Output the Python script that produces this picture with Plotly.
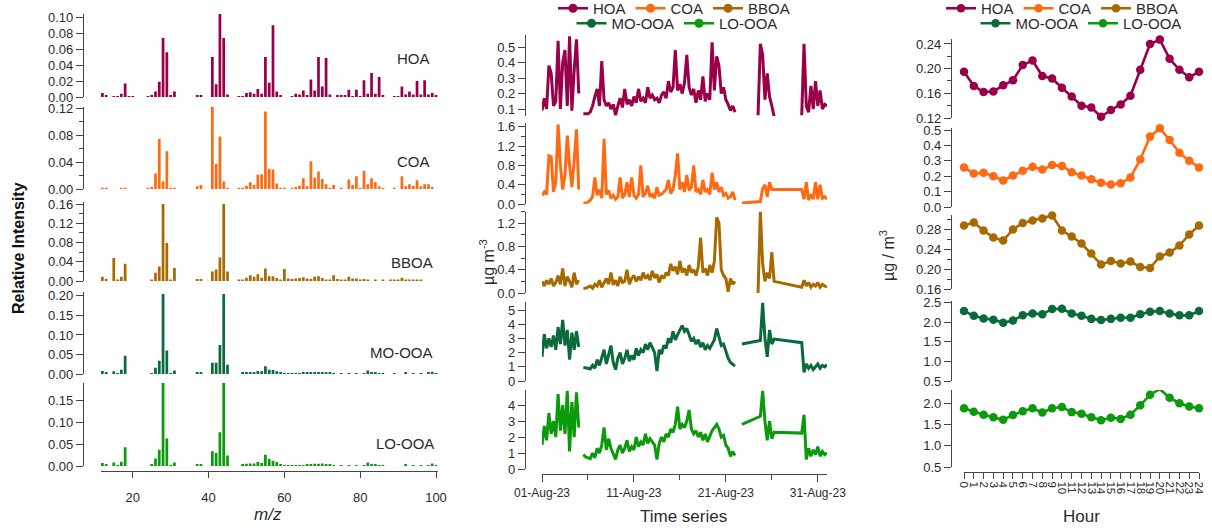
import pandas as pd
import plotly.graph_objects as go

# ---------------- data ----------------
SPECIES = ["HOA", "COA", "BBOA", "MO-OOA", "LO-OOA"]
COLORS = ["#990049", "#FF6A13", "#A86A00", "#0B6A3A", "#0B9A0B"]

MZ = list(range(12, 101))
MS_HOA = [0.005, 0.002, 0, 0.001, 0.001, 0.004, 0.017, 0.001, 0.001, 0,
          0, 0, 0.001, 0.002, 0.007, 0.019, 0.074, 0.056, 0.002, 0.007,
          0, 0, 0, 0, 0, 0.002, 0.002, 0, 0, 0.050,
          0.016, 0.104, 0.074, 0.003, 0, 0, 0.001, 0.001, 0.005, 0.006,
          0.004, 0.010, 0.004, 0.050, 0.018, 0.090, 0.007, 0.002, 0, 0,
          0.001, 0.004, 0.003, 0.008, 0.002, 0.022, 0.008, 0.050, 0.013, 0.049,
          0.003, 0, 0.002, 0.002, 0.002, 0.009, 0.001, 0.009, 0.001, 0.021,
          0.004, 0.030, 0.004, 0.025, 0.002, 0, 0, 0.001, 0.001, 0.013,
          0.003, 0.007, 0.003, 0.020, 0.003, 0.021, 0.003, 0.005, 0.002]
MS_COA = [0.001, 0.001, 0, 0, 0, 0.001, 0.002, 0, 0, 0,
          0, 0, 0.001, 0.003, 0.023, 0.074, 0.011, 0.056, 0.002, 0.002,
          0, 0, 0, 0, 0, 0.004, 0.006, 0, 0, 0.123,
          0.037, 0.078, 0.011, 0.002, 0, 0, 0.001, 0.001, 0.005, 0.010,
          0.006, 0.021, 0.022, 0.115, 0.030, 0.029, 0.008, 0.002, 0.002, 0,
          0.001, 0.003, 0.005, 0.016, 0.004, 0.041, 0.017, 0.026, 0.015, 0.007,
          0.002, 0.006, 0, 0.001, 0, 0.014, 0.006, 0.019, 0.002, 0.027,
          0.007, 0.016, 0.010, 0.004, 0.002, 0, 0, 0.001, 0, 0.019,
          0.004, 0.007, 0.005, 0.013, 0.004, 0.007, 0.007, 0.003, 0]
MS_BBOA = [0.009, 0.004, 0, 0.048, 0.001, 0.009, 0.036, 0, 0, 0,
           0, 0, 0, 0.002, 0.017, 0.030, 0.160, 0.079, 0.002, 0.027,
           0, 0, 0, 0, 0, 0.004, 0.004, 0, 0, 0.020,
           0.024, 0.049, 0.160, 0.020, 0, 0, 0.001, 0.002, 0.007, 0.012,
           0.009, 0.014, 0.007, 0.026, 0.010, 0.010, 0.006, 0.003, 0.025, 0.005,
           0.004, 0.005, 0.006, 0.008, 0.005, 0.004, 0.009, 0.010, 0.006, 0.002,
           0.001, 0.012, 0.004, 0.003, 0.003, 0.009, 0.005, 0.005, 0.003, 0.004,
           0.002, 0, 0.001, 0, 0.001, 0, 0.002, 0.003, 0.002, 0.007,
           0.003, 0.003, 0.003, 0.002, 0.001, 0, 0, 0, 0]
MS_MOOOA = [0.008, 0.003, 0, 0.007, 0.002, 0.011, 0.047, 0, 0, 0,
            0, 0, 0, 0.002, 0.016, 0.034, 0.205, 0.060, 0.002, 0.009,
            0, 0, 0, 0, 0, 0.003, 0.003, 0, 0, 0.029,
            0.029, 0.074, 0.205, 0.024, 0, 0, 0, 0.003, 0.004, 0.005,
            0.005, 0.008, 0.007, 0.020, 0.011, 0.010, 0.007, 0.003, 0.002, 0.001,
            0.001, 0.002, 0.002, 0.003, 0.003, 0.004, 0.005, 0.005, 0.005, 0.004,
            0.003, 0.001, 0, 0.001, 0, 0.002, 0, 0.002, 0, 0.002,
            0.009, 0.003, 0.003, 0.002, 0.002, 0, 0, 0.001, 0, 0,
            0.004, 0, 0.001, 0, 0.002, 0, 0.003, 0.006, 0.002]
MS_LOOOA = [0.007, 0.003, 0, 0.008, 0.002, 0.010, 0.043, 0, 0, 0,
            0, 0, 0, 0.003, 0.017, 0.037, 0.190, 0.063, 0.002, 0.008,
            0, 0, 0, 0, 0, 0.003, 0.003, 0, 0, 0.034,
            0.030, 0.077, 0.190, 0.024, 0, 0, 0, 0.003, 0.005, 0.006,
            0.006, 0.009, 0.007, 0.026, 0.016, 0.012, 0.009, 0.003, 0.002, 0.001,
            0.001, 0.002, 0.002, 0.002, 0.003, 0.004, 0.005, 0.005, 0.006, 0.004,
            0.003, 0.001, 0, 0.001, 0, 0.001, 0, 0.002, 0, 0.002,
            0.008, 0.003, 0.003, 0.002, 0.002, 0, 0, 0, 0, 0,
            0.004, 0, 0.001, 0, 0.002, 0, 0.002, 0.006, 0.002]

HOURS = list(range(25))
DIURNAL_HOA = [0.195, 0.172, 0.162, 0.163, 0.173, 0.181, 0.206, 0.213, 0.188, 0.184,
               0.169, 0.155, 0.140, 0.137, 0.122, 0.133, 0.142, 0.156, 0.198, 0.240,
               0.247, 0.216, 0.198, 0.186, 0.195]
DIURNAL_COA = [0.257, 0.217, 0.222, 0.200, 0.172, 0.204, 0.235, 0.261, 0.243, 0.272,
               0.267, 0.226, 0.204, 0.180, 0.157, 0.146, 0.154, 0.191, 0.309, 0.457,
               0.511, 0.435, 0.352, 0.300, 0.257]
DIURNAL_BBOA = [0.287, 0.293, 0.277, 0.263, 0.257, 0.279, 0.292, 0.297, 0.301, 0.307,
                0.277, 0.265, 0.251, 0.231, 0.209, 0.216, 0.211, 0.215, 0.204, 0.202,
                0.225, 0.233, 0.247, 0.269, 0.287]
DIURNAL_MOOOA = [2.29, 2.17, 2.10, 2.07, 1.99, 2.05, 2.18, 2.23, 2.21, 2.34,
                 2.35, 2.23, 2.17, 2.09, 2.06, 2.09, 2.12, 2.12, 2.21, 2.27,
                 2.29, 2.23, 2.18, 2.18, 2.29]
DIURNAL_LOOOA = [1.88, 1.80, 1.73, 1.67, 1.61, 1.72, 1.81, 1.88, 1.78, 1.88,
                 1.91, 1.79, 1.75, 1.67, 1.60, 1.66, 1.63, 1.73, 1.95, 2.20,
                 2.33, 2.13, 2.00, 1.92, 1.88]

# time series: 6-hourly samples from TS_START; each entry = (first sample index, values)
# None inside a run = missing sample (line drawn across); separate runs = broken line
TS_START = "2023-08-01 00:00"
TS_STEP_HOURS = 6
TS_HOA = [
    (0, [0.09, 0.17, 0.10, 0.38, 0.33, 0.12, 0.15, 0.54, 0.10, 0.40, 0.48, 0.12, 0.57, 0.09, 0.35, 0.55, 0.20]),
    (18, [0.07, 0.07, 0.07, 0.08, 0.12, 0.18, 0.23, 0.12, 0.41, 0.16,
          0.12, 0.14, 0.10, 0.13, 0.06, 0.12, 0.17, 0.11, 0.23, 0.13,
          0.16, 0.12, 0.18, 0.14, 0.23, 0.15, 0.17, 0.14, 0.24, 0.17,
          0.19, 0.16, 0.17, 0.14, 0.19, 0.21, 0.17, 0.28, 0.21, 0.24,
          0.48, 0.22, 0.26, 0.20, 0.27, 0.45, 0.24, 0.19, 0.23, 0.14,
          0.22, 0.16, 0.31, 0.15, 0.20, 0.16, 0.53, 0.22, 0.44, 0.38,
          0.20, 0.24, 0.16, 0.13, 0.09, 0.12, 0.08]),
    (94, [0.06, 0.52, 0.45, 0.16, 0.33, 0.18, 0.12, 0.05]),
    (113, [0.06, 0.52, 0.12, 0.08, 0.25, 0.10, 0.28, 0.12, 0.22, 0.10, 0.13, 0.12]),
]
TS_COA = [
    (0, [0.18, 0.25, 0.20, 1.00, 0.98, 0.25, 0.45, 1.65, 0.80, 0.30, 0.60, 1.42, 0.80, 0.35, 0.90, 1.55, 0.30]),
    (18, [0.02, 0.02, 0.04, 0.08, 0.15, 0.55, 0.18, 0.30, 0.12, 1.35,
          0.20, 0.28, 0.12, 0.18, 0.10, 0.15, 0.55, 0.12, 0.20, 0.45,
          0.15, 0.55, 0.18, 0.12, 0.20, 0.80, 0.15, 0.22, 0.38, 0.15,
          0.20, 0.12, 0.35, 0.18, 0.20, 0.25, 0.30, 0.50, 0.22, 0.30,
          0.60, 1.05, 0.30, 0.45, 0.25, 0.60, 0.28, 0.35, 0.80, 0.25,
          0.30, 0.20, 0.50, 0.25, 0.30, 0.20, 0.65, 0.30, 0.45, 0.25,
          0.35, 0.18, 0.22, 0.12, 0.15, 0.25, 0.08]),
    (87, [0.02, None, None, None, None, None, None, None, 0.05, 0.32,
          0.40, 0.15, 0.45, 0.30, 0.30, None, None, None, None, None,
          None, None, None, None, None, None, 0.30, 0.10, 0.45, 0.08,
          0.20, 0.10, 0.45, 0.10, 0.40, 0.12, 0.15, 0.10]),
]
TS_BBOA = [
    (0, [0.20, 0.12, 0.22, 0.15, 0.25, 0.12, 0.18, 0.30, 0.15, 0.42, 0.12, 0.28, 0.20, 0.10, 0.35, 0.15, 0.22]),
    (18, [0.08, 0.08, 0.10, 0.12, 0.08, 0.15, 0.12, 0.22, 0.10, 0.18,
          0.25, 0.15, 0.35, 0.14, 0.22, 0.12, 0.28, 0.18, 0.20, 0.40,
          0.15, 0.25, 0.30, 0.20, 0.28, 0.22, 0.35, 0.25, 0.30, 0.22,
          0.38, 0.26, 0.32, 0.18, 0.30, 0.25, 0.35, 0.30, 0.50, 0.38,
          0.45, 0.32, 0.55, 0.35, 0.42, 0.30, 0.48, 0.35, 0.40, 0.30,
          0.45, 0.95, 0.35, 0.42, 0.30, 0.48, 0.35, 0.55, 1.30, 1.20,
          0.40, 0.30, 0.25, 0.02, 0.25, 0.15, 0.20]),
    (94, [0.00, 1.40, 0.50, 0.20, 0.35, 0.25, 0.70, 0.20, None, None,
          None, None, None, None, None, None, None, None, None, 0.10,
          0.22, 0.12, 0.18, 0.10, 0.15, 0.12, 0.18, 0.10, 0.15, 0.12,
          0.10]),
]
TS_MOOOA = [
    (0, [1.7, 3.3, 2.3, 3.0, 2.4, 3.2, 2.2, 3.8, 2.6, 4.3, 2.5, 3.6, 1.5, 3.4, 2.2, 3.5, 2.4]),
    (18, [0.95, 0.95, 0.90, 0.85, 1.10, 0.90, 1.50, 1.10, 1.60, 2.20,
          1.20, 1.80, 2.50, 1.30, 0.80, 1.60, 2.00, 1.20, 1.60, 2.20,
          1.40, 1.80, 1.50, 2.30, 1.80, 2.20, 2.00, 2.60, 2.20, 2.70,
          2.40, 2.00, 0.70, 2.20, 1.90, 2.50, 2.30, 3.00, 2.70, 3.50,
          2.90, 3.30, 3.60, 3.90, 3.50, 3.70, 3.20, 2.80, 3.00, 2.60,
          2.90, 2.40, 2.70, 2.20, 2.50, 2.30, 2.60, 2.90, 3.70, 3.10,
          2.50, 2.60, 2.00, 1.60, 1.30, 1.20, 1.05]),
    (87, [2.60, None, None, None, None, None, None, None, 2.85, 5.50,
          3.00, 1.70, 3.60, 2.60, 2.95, None, None, None, None, None,
          None, None, None, None, None, None, 2.70, 0.60, 1.20, 0.90,
          1.10, 0.80, 1.00, 1.20, 0.90, 1.10, 1.00, 1.15]),
]
TS_LOOOA = [
    (0, [1.5, 2.7, 1.8, 3.5, 2.2, 3.0, 2.0, 4.7, 2.4, 4.0, 2.2, 4.9, 1.1, 4.2, 2.0, 4.8, 2.6]),
    (18, [0.90, 0.75, 0.70, 0.65, 1.00, 0.70, 1.30, 1.00, 1.50, 2.60,
          1.20, 1.90, 1.30, 1.00, 0.60, 1.20, 1.50, 1.00, 1.30, 1.80,
          1.10, 1.40, 1.20, 2.00, 1.40, 1.70, 1.50, 2.20, 1.60, 1.90,
          1.70, 1.50, 0.60, 1.60, 2.00, 1.70, 2.20, 2.00, 2.50, 2.30,
          2.80, 3.90, 2.50, 2.80, 2.60, 3.00, 3.70, 2.50, 2.20, 2.40,
          2.00, 2.30, 1.80, 2.20, 1.70, 2.10, 2.40, 2.60, 2.80, 2.50,
          2.00, 2.10, 1.50, 1.30, 0.80, 1.10, 0.85]),
    (87, [2.80, None, None, None, None, None, None, None, 3.30, 4.90,
          3.00, 1.80, 3.00, 1.90, 2.30, None, None, None, None, None,
          None, None, None, None, None, None, 2.25, 3.40, 0.60, 1.30,
          0.80, 1.20, 0.90, 1.40, 0.80, 1.10, 0.90, 1.00]),
]

MS = [MS_HOA, MS_COA, MS_BBOA, MS_MOOOA, MS_LOOOA]
TS = [TS_HOA, TS_COA, TS_BBOA, TS_MOOOA, TS_LOOOA]
DIURNAL = [DIURNAL_HOA, DIURNAL_COA, DIURNAL_BBOA, DIURNAL_MOOOA, DIURNAL_LOOOA]

# ---------------- layout geometry (pixels) ----------------
W, H = 1212, 531
FONT = "Arial, Liberation Sans, sans-serif"
TXT = "#2b2b2b"
AXC = "#454545"


def fx(px):
    return px / W


def fy(py):
    return (H - py) / H


COL_X = [(100.5, 437.9), (542, 827), (964, 1199)]
YAXIS_X = [83, 525, 951]
XAXIS_Y = [471, 474, 472]
PANEL_Y = [
    [(14, 97), (106.7, 189), (201.6, 281), (292, 374), (383, 466)],
    [(35.4, 116), (123, 204), (211.5, 293), (301.5, 381), (390, 469)],
    [(39, 118), (128, 207), (214.5, 289), (300.5, 381), (390, 467)],
]
# (range, dtick, tick0, format, minor dtick)
YSPEC = [
    [([0, 0.104], 0.02, 0, ".2f", None), ([0, 0.122], 0.04, 0, ".2f", 0.02),
     ([0, 0.165], 0.04, 0, ".2f", 0.02), ([0, 0.21], 0.05, 0, ".2f", None),
     ([0, 0.19], 0.05, 0, ".2f", None)],
    [([0.055, 0.575], 0.1, 0.1, ".1f", None), ([0, 1.68], 0.4, 0, ".1f", 0.2),
     ([0, 1.4], 0.4, 0, ".1f", 0.2), ([0, 5.6], 1, 0, "d", None),
     ([0, 4.95], 1, 0, "d", None)],
    [([0.12, 0.248], 0.04, 0.12, ".2f", 0.02), ([0, 0.513], 0.1, 0, ".1f", None),
     ([0.16, 0.309], 0.04, 0.16, ".2f", 0.02), ([0.5, 2.56], 0.5, 0.5, ".1f", None),
     ([0.5, 2.31], 0.5, 0.5, ".1f", None)],
]

fig = go.Figure()
layout = dict(width=W, height=H, margin=dict(l=0, r=0, t=0, b=0, autoexpand=False),
              paper_bgcolor="white", plot_bgcolor="white",
              font=dict(family=FONT, size=13, color=TXT), bargap=0.25,
              showlegend=True)

t0 = pd.Timestamp(TS_START)

for c in range(3):
    for r in range(5):
        p = c * 5 + r + 1
        xs = "" if p == 1 else str(p)
        xa, ya = "x" + xs, "y" + xs
        name = SPECIES[r]
        color = COLORS[r]
        if c == 0:
            fig.add_trace(go.Bar(x=MZ, y=MS[r], xaxis=xa, yaxis=ya, width=0.72,
                                 marker=dict(color=color, line=dict(width=0)),
                                 showlegend=False, name=name))
        elif c == 1:
            for start, vals in TS[r]:
                xt = [t0 + pd.Timedelta(hours=TS_STEP_HOURS * (start + k)) for k in range(len(vals))]
                fig.add_trace(go.Scatter(x=xt, y=vals, xaxis=xa, yaxis=ya, mode="lines",
                                         connectgaps=True, line=dict(color=color, width=3),
                                         showlegend=False, name=name))
            fig.add_trace(go.Scatter(x=[None], y=[None], xaxis=xa, yaxis=ya, mode="lines+markers",
                                     line=dict(color=color, width=2.6), marker=dict(size=9, color=color),
                                     name=name, legend="legend" if r < 3 else "legend2"))
        else:
            fig.add_trace(go.Scatter(x=HOURS, y=DIURNAL[r], xaxis=xa, yaxis=ya, mode="lines+markers",
                                     line=dict(color=color, width=2.6), marker=dict(size=8.5, color=color),
                                     cliponaxis=False,
                                     name=name, legend="legend3" if r < 3 else "legend4"))

        # x axis
        xax = dict(domain=[fx(COL_X[c][0]), fx(COL_X[c][1])], anchor="free",
                   position=fy(XAXIS_Y[c]), showgrid=False, zeroline=False,
                   showline=True, linecolor=AXC, linewidth=1.3, ticks="outside",
                   tickcolor=AXC, tickwidth=1.3, ticklen=6,
                   tickfont=dict(size=13, color=TXT), visible=(r == 4))
        if c == 0:
            xax.update(range=[11.5, 100.5], tick0=0, dtick=20, ticklabelstandoff=8)
        elif c == 1:
            xax.update(type="date", range=["2023-08-01", "2023-09-01"],
                       tick0="2023-08-01", dtick=864000000, tickformat="%d-%b-%y",
                       tickfont=dict(size=12, color=TXT), ticklen=7,
                       minor=dict(ticks="outside", dtick=432000000, tick0="2023-08-01",
                                  ticklen=5, tickcolor=AXC, tickwidth=1.3))
        else:
            xax.update(range=[0, 24], tick0=0, dtick=1, tickangle=90,
                       tickfont=dict(size=11.5, color=TXT))
        layout["xaxis" + xs] = xax

        rng, dt, tk0, fmt, mdt = YSPEC[c][r]
        top, bot = PANEL_Y[c][r]
        yax = dict(domain=[fy(bot), fy(top)], anchor="free", position=fx(YAXIS_X[c]),
                   range=rng, dtick=dt, tick0=tk0, tickformat=fmt,
                   showgrid=False, zeroline=False, showline=True, linecolor=AXC,
                   linewidth=1.3, ticks="outside", tickcolor=AXC, tickwidth=1.3,
                   ticklen=7, tickfont=dict(size=13, color=TXT))
        if mdt is not None:
            yax["minor"] = dict(ticks="outside", dtick=mdt, tick0=tk0, ticklen=4,
                                tickcolor=AXC, tickwidth=1.3)
        layout["yaxis" + xs] = yax

LEG = dict(orientation="h", xanchor="center", yanchor="top", bgcolor="rgba(0,0,0,0)",
           font=dict(size=15, color=TXT, family=FONT), itemwidth=30, tracegroupgap=0)
layout["legend"] = dict(LEG, x=fx(674), y=fy(-8))
layout["legend2"] = dict(LEG, x=fx(677), y=fy(7))
layout["legend3"] = dict(LEG, x=fx(1062), y=fy(-8))
layout["legend4"] = dict(LEG, x=fx(1081), y=fy(7))

ann = []
LABEL_POS = [(432, 58), (432, 162), (435, 262), (435, 352), (436, 443)]
for name, (lx, ly) in zip(SPECIES, LABEL_POS):
    ann.append(dict(text=name, x=fx(lx), y=fy(ly), xref="paper", yref="paper",
                    xanchor="right", yanchor="middle", showarrow=False,
                    font=dict(size=15, color=TXT)))
ann += [
    dict(text="<b>Relative Intensity</b>", x=fx(18), y=fy(248), textangle=-90,
         font=dict(size=16, color="#111")),
    dict(text="<i>m/z</i>", x=fx(268), y=fy(514), font=dict(size=17, color=TXT)),
    dict(text="Time series", x=fx(684), y=fy(516), font=dict(size=17, color=TXT)),
    dict(text="Hour", x=fx(1081), y=fy(516), font=dict(size=17, color=TXT)),
    dict(text="µg m<sup>-3</sup>", x=fx(487), y=fy(262), textangle=-90,
         font=dict(size=16, color=TXT)),
    dict(text="µg / m<sup>3</sup>", x=fx(887), y=fy(255), textangle=-90,
         font=dict(size=16, color=TXT)),
]
for a in ann[5:]:
    a.update(xref="paper", yref="paper", xanchor="center", yanchor="middle", showarrow=False)
layout["annotations"] = ann

fig.update_layout(**layout)
fig.write_html("out.html", config={"displayModeBar": False},
               post_script="document.body.style.margin='0';")
